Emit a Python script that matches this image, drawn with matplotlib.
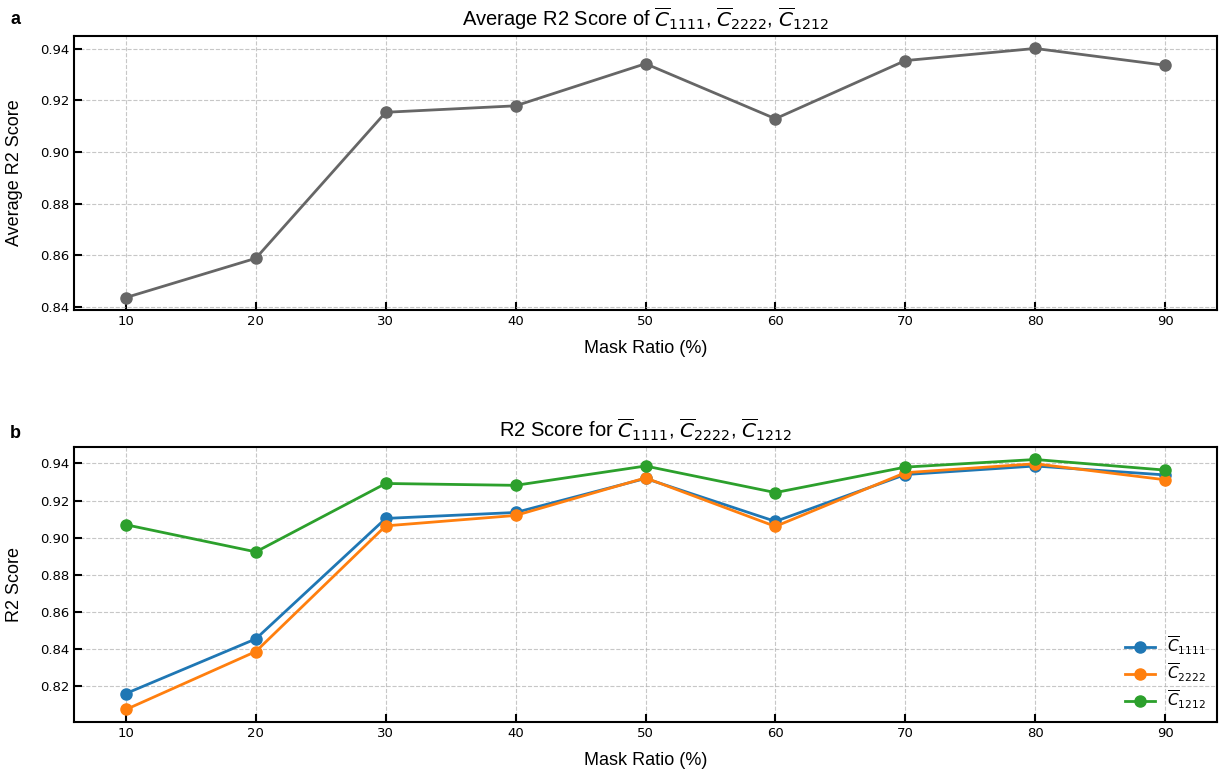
import matplotlib
matplotlib.use("Agg")
import matplotlib.pyplot as plt

mask_ratio = [10, 20, 30, 40, 50, 60, 70, 80, 90]
avg_r2 = [0.8437, 0.8589, 0.9154, 0.9179, 0.9342, 0.9129, 0.9354, 0.9401, 0.9336]
c1111 = [0.8162, 0.8456, 0.9104, 0.9136, 0.9319, 0.9088, 0.9340, 0.9386, 0.9338]
c2222 = [0.8076, 0.8388, 0.9064, 0.9120, 0.9322, 0.9061, 0.9350, 0.9398, 0.9312]
c1212 = [0.9070, 0.8924, 0.9292, 0.9282, 0.9386, 0.9243, 0.9380, 0.9421, 0.9364]

labels = [r'$\overline{C}_{1111}$', r'$\overline{C}_{2222}$', r'$\overline{C}_{1212}$']
colors = ['#1f77b4', '#ff7f0e', '#2ca02c']

TF = ['Liberation Sans', 'DejaVu Sans']

fig = plt.figure(figsize=(12.25, 7.77), dpi=100)
ax1 = fig.add_axes([74/1225, 1-310/777, (1217-74)/1225, (310-36)/777])
ax2 = fig.add_axes([74/1225, 1-722/777, (1217-74)/1225, (722-447)/777])

def style(ax):
    ax.grid(True, linestyle='--', color='#b0b0b0', alpha=0.7, linewidth=0.8)
    ax.set_xticks(mask_ratio)
    ax.tick_params(direction='in', length=6, width=1.5, labelsize=9.5)
    for s in ax.spines.values():
        s.set_linewidth(1.5)
    ax.yaxis.set_label_coords(-0.045, 0.5)

ax1.plot(mask_ratio, avg_r2, '-o', color='#666666', linewidth=2, markersize=8)
ax1.set_title(r'Average R2 Score of $\overline{C}_{1111}$, $\overline{C}_{2222}$, $\overline{C}_{1212}$',
              fontsize=14.5, pad=7, family=TF)
ax1.set_xlabel('Mask Ratio (%)', fontsize=13, family=TF, labelpad=9)
ax1.set_ylabel('Average R2 Score', fontsize=13, family=TF)
style(ax1)

for vals, lab, c in zip([c1111, c2222, c1212], labels, colors):
    ax2.plot(mask_ratio, vals, '-o', color=c, linewidth=2, markersize=8, label=lab)
ax2.set_title(r'R2 Score for $\overline{C}_{1111}$, $\overline{C}_{2222}$, $\overline{C}_{1212}$',
              fontsize=14.5, pad=7, family=TF)
ax2.set_xlabel('Mask Ratio (%)', fontsize=13, family=TF, labelpad=9)
ax2.set_ylabel('R2 Score', fontsize=13, family=TF)
ax2.legend(loc='lower right', frameon=False, fontsize=11, labelspacing=0.3, borderaxespad=0.3)
style(ax2)

fig.text(10/1225, 1-20/777, 'a', fontsize=13, fontweight='bold', va='center', family=TF)
fig.text(10/1225, 1-433/777, 'b', fontsize=13, fontweight='bold', va='center', family=TF)

fig.savefig('out.png', dpi=100)
